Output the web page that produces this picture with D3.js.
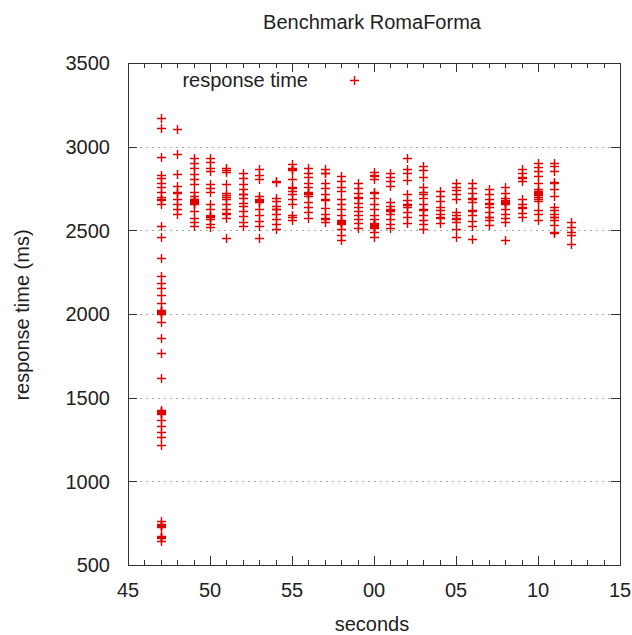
<!DOCTYPE html>
<html>
<head>
<meta charset="utf-8">
<script src="https://cdn.jsdelivr.net/npm/d3@7"></script>
<style>
  body { margin: 0; background: #fff; }
  text { font-family: "Liberation Sans", Arial, sans-serif; fill: #222; }
</style>
</head>
<body>
<div id="chart"></div>
<script>
// seconds elapsed (47 = hh:mm:47, 60 = next minute :00)
var seconds = [47, 48, 49, 50, 51, 52, 53, 54, 55, 56, 57, 58, 59,
               60, 61, 62, 63, 64, 65, 66, 67, 68, 69, 70, 71, 72];

// response times (ms) read per second
var responseTimes = [
  [3170, 3110, 2940, 2830, 2810, 2785, 2760, 2730, 2700, 2690, 2680, 2655, 2525, 2460, 2335, 2230, 2185, 2155, 2115, 2065,
   2025, 2020, 2015, 2010, 2005, 2000, 1955, 1855, 1765, 1620, 1425, 1420, 1415, 1410, 1405, 1365, 1330, 1295, 1265, 1220,
   760, 745, 740, 735, 730, 675, 670, 665, 660, 645],
  [3105, 2955, 2835, 2765, 2730, 2725, 2685, 2660, 2630, 2600],
  [2935, 2905, 2870, 2835, 2805, 2775, 2730, 2705, 2690, 2685, 2680, 2675, 2670, 2665, 2655, 2615, 2575, 2550, 2525],
  [2935, 2910, 2875, 2855, 2775, 2755, 2730, 2655, 2630, 2590, 2585, 2580, 2565, 2540, 2520],
  [2875, 2860, 2850, 2775, 2725, 2710, 2700, 2685, 2655, 2630, 2605, 2600, 2575, 2455],
  [2845, 2815, 2775, 2745, 2720, 2715, 2695, 2665, 2645, 2615, 2585, 2550, 2525],
  [2865, 2830, 2805, 2705, 2685, 2680, 2675, 2670, 2625, 2590, 2555, 2525, 2455],
  [2795, 2790, 2695, 2675, 2645, 2630, 2625, 2595, 2570, 2540, 2510],
  [2895, 2870, 2865, 2860, 2805, 2760, 2755, 2735, 2720, 2685, 2660, 2590, 2580, 2560],
  [2875, 2845, 2820, 2785, 2760, 2730, 2725, 2715, 2705, 2670, 2640, 2610, 2575],
  [2865, 2845, 2840, 2780, 2755, 2720, 2685, 2680, 2635, 2600, 2575, 2570, 2550],
  [2825, 2795, 2760, 2735, 2685, 2655, 2625, 2590, 2560, 2555, 2550, 2545, 2535, 2505, 2470, 2445],
  [2785, 2755, 2725, 2700, 2695, 2665, 2640, 2615, 2590, 2570, 2545, 2515],
  [2850, 2830, 2825, 2805, 2730, 2725, 2695, 2660, 2625, 2590, 2565, 2545, 2540, 2535, 2530, 2525, 2520, 2515, 2490, 2460],
  [2845, 2820, 2795, 2765, 2670, 2645, 2625, 2620, 2615, 2595, 2570, 2540, 2515],
  [2935, 2865, 2845, 2800, 2715, 2680, 2655, 2650, 2640, 2610, 2580, 2545],
  [2885, 2860, 2820, 2760, 2730, 2720, 2695, 2660, 2630, 2620, 2590, 2560, 2535, 2505],
  [2735, 2705, 2675, 2640, 2620, 2595, 2580, 2575, 2545],
  [2780, 2760, 2740, 2715, 2685, 2610, 2590, 2575, 2570, 2550, 2510, 2460],
  [2780, 2755, 2725, 2695, 2690, 2670, 2620, 2615, 2590, 2555, 2525, 2450],
  [2750, 2720, 2690, 2665, 2660, 2640, 2610, 2580, 2578, 2560, 2530],
  [2760, 2725, 2695, 2680, 2675, 2668, 2665, 2655, 2625, 2600, 2575, 2550, 2445],
  [2865, 2845, 2820, 2815, 2795, 2685, 2660, 2640, 2635, 2605, 2580],
  [2905, 2880, 2855, 2825, 2785, 2745, 2735, 2730, 2725, 2720, 2715, 2710, 2700, 2690, 2675, 2620, 2595, 2560],
  [2905, 2885, 2855, 2790, 2780, 2750, 2705, 2640, 2620, 2595, 2580, 2578, 2560, 2530, 2490, 2485],
  [2550, 2520, 2490, 2470, 2420]
];

var xTicks = [45, 50, 55, 60, 65, 70, 75];
var yTicks = [500, 1000, 1500, 2000, 2500, 3000, 3500];

var width = 632,
    height = 635,
    plotLeft = 128, plotRight = 620, plotTop = 63, plotBottom = 565;

var svg = d3.select("#chart").append("svg")
    .attr("width", width)
    .attr("height", height);

var x = d3.scaleLinear().domain([45, 75]).range([plotLeft, plotRight]);
var y = d3.scaleLinear().domain([500, 3500]).range([plotBottom, plotTop]);

// flatten to points
var points = [];
seconds.forEach(function(s, i) {
  responseTimes[i].forEach(function(v) { points.push({ s: s, v: v }); });
});

// grid lines (dotted, not on the border ticks)
svg.append("g").selectAll("line")
    .data(yTicks.slice(1, -1))
    .enter().append("line")
      .attr("x1", plotLeft).attr("x2", plotRight)
      .attr("y1", function(d) { return Math.round(y(d)) + 0.5; })
      .attr("y2", function(d) { return Math.round(y(d)) + 0.5; })
      .attr("stroke", "#a8a8a8")
      .attr("stroke-dasharray", "2,4");

// ticks on all four sides, pointing in
var tickG = svg.append("g").attr("stroke", "#333").attr("stroke-width", 1);
d3.range(45, 76).forEach(function(s) {
  var len = (s % 5 === 0) ? 9 : 5;
  var px = Math.round(x(s)) + 0.5;
  tickG.append("line").attr("x1", px).attr("x2", px).attr("y1", plotBottom).attr("y2", plotBottom - len);
  tickG.append("line").attr("x1", px).attr("x2", px).attr("y1", plotTop).attr("y2", plotTop + len);
});
yTicks.forEach(function(v) {
  var py = Math.round(y(v)) + 0.5;
  tickG.append("line").attr("x1", plotLeft).attr("x2", plotLeft + 9).attr("y1", py).attr("y2", py);
  tickG.append("line").attr("x1", plotRight).attr("x2", plotRight - 9).attr("y1", py).attr("y2", py);
});

// frame
svg.append("rect")
    .attr("x", plotLeft + 0.5).attr("y", plotTop + 0.5)
    .attr("width", plotRight - plotLeft).attr("height", plotBottom - plotTop)
    .attr("fill", "none")
    .attr("stroke", "#333");

// tick labels
svg.append("g").selectAll("text")
    .data(yTicks)
    .enter().append("text")
      .attr("x", 110)
      .attr("y", function(d) { return y(d); })
      .attr("dy", "0.36em")
      .attr("text-anchor", "end")
      .attr("font-size", 20)
      .text(function(d) { return d; });

svg.append("g").selectAll("text")
    .data(xTicks)
    .enter().append("text")
      .attr("x", function(d) { return x(d); })
      .attr("y", 597)
      .attr("text-anchor", "middle")
      .attr("font-size", 20)
      .text(function(d) { return d3.format("02d")(d % 60); });

// titles
svg.append("text")
    .attr("x", 372).attr("y", 29)
    .attr("text-anchor", "middle")
    .attr("font-size", 20)
    .text("Benchmark RomaForma");

svg.append("text")
    .attr("x", 372).attr("y", 631)
    .attr("text-anchor", "middle")
    .attr("font-size", 20)
    .text("seconds");

svg.append("text")
    .attr("transform", "translate(29,315) rotate(-90)")
    .attr("text-anchor", "middle")
    .attr("font-size", 20)
    .text("response time (ms)");

// plus markers
function plus(sel, cx, cy) {
  sel.append("path")
      .attr("d", "M" + (cx - 4.5) + "," + cy + "H" + (cx + 4.5) + "M" + cx + "," + (cy - 4.5) + "V" + (cy + 4.5))
      .attr("stroke", "#e00000")
      .attr("stroke-width", 1.4)
      .attr("fill", "none");
}

var marks = svg.append("g");
points.forEach(function(d) {
  plus(marks, Math.round(x(d.s)) + 0.5, Math.round(y(d.v)) + 0.5);
});

// legend
svg.append("text")
    .attr("x", 308).attr("y", 87)
    .attr("text-anchor", "end")
    .attr("font-size", 20)
    .text("response time");
plus(svg, 354.5, 80.5);
</script>
</body>
</html>
